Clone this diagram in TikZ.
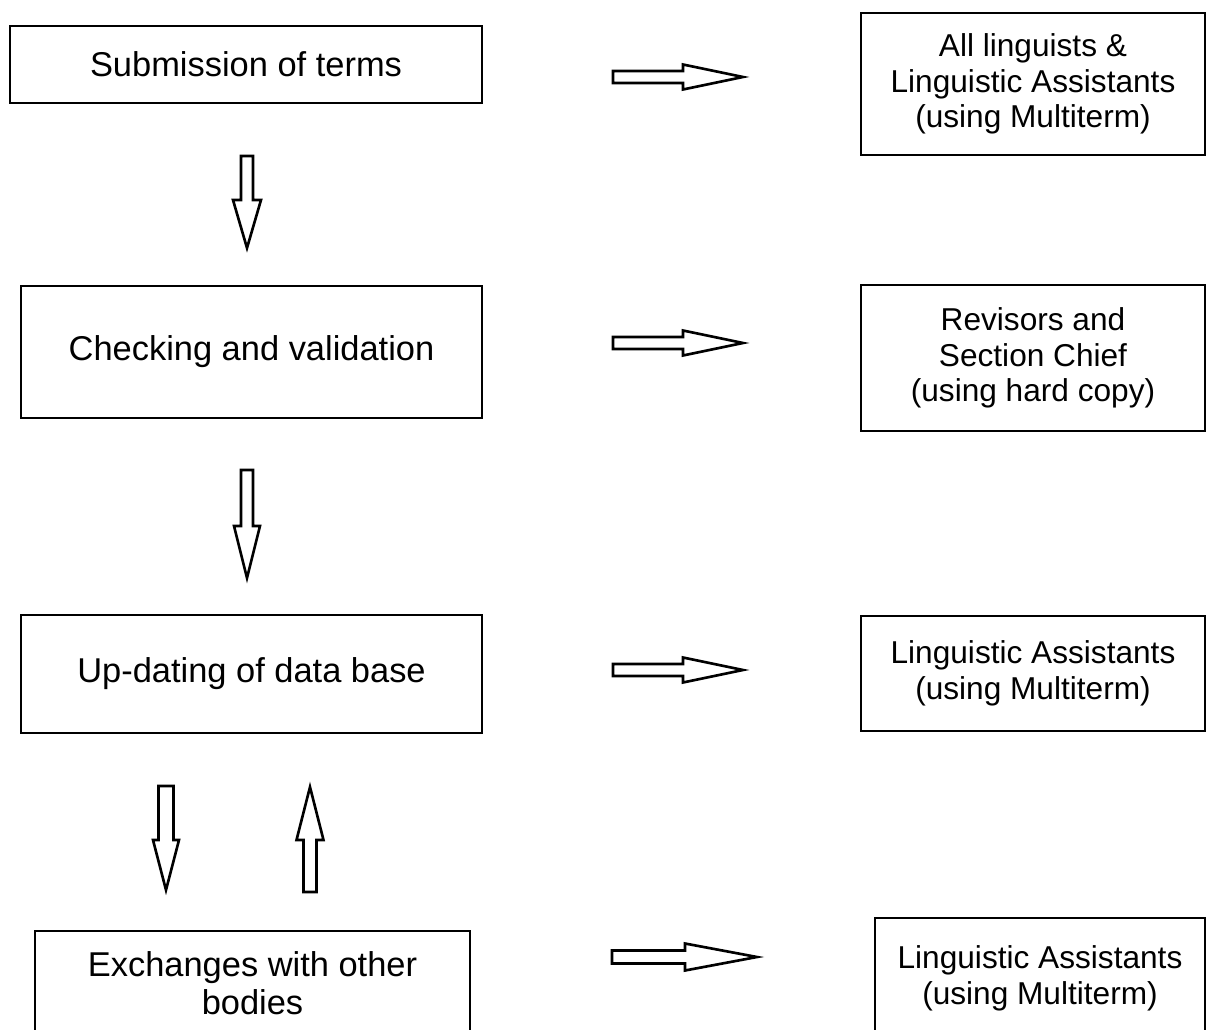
\documentclass[tikz,border=0pt]{standalone}
\usepackage{fontspec}
\setmainfont{Liberation Sans}
\newcommand{\hollowarrow}[6]{\draw[arrowline, shift={(#1)}, rotate=#2] (0,#4) -- ({#3-#6},#4) -- ({#3-#6},#5) -- (#3,0) -- ({#3-#6},-#5) -- ({#3-#6},-#4) -- (0,-#4) -- cycle;}
\begin{document}
\begin{tikzpicture}[x=0.02cm, y=-0.02cm,
		stage/.style={draw, line width=1.6pt, align=center, inner sep=0pt, font=\fontsize{19.6}{21.6}\selectfont},
		users/.style={draw, line width=1.6pt, align=center, inner sep=0pt, font=\fontsize{18}{20.3}\selectfont},
		arrowline/.style={draw, line width=1.5pt, line join=miter}]
		\useasboundingbox (0,0) rectangle (1207,1030);
		\clip (0,0) rectangle (1207,1030);
		\node[stage, minimum width=9.44cm, minimum height=1.54cm] (submit) at (246,64.5) {Submission of terms};
		\node[stage, minimum width=9.22cm, minimum height=2.64cm] (check) at (251.5,352) {Checking and validation};
		\node[stage, minimum width=9.22cm, minimum height=2.36cm] (update) at (251.5,674) {Up-dating of data base};
		\node[stage, minimum width=8.7cm, minimum height=2.08cm] (exchange) at (252.5,983) {Exchanges with other\\bodies};
		\node[users, minimum width=6.88cm, minimum height=2.84cm] (allling) at (1033,84) {All linguists \&\\Linguistic Assistants\\(using Multiterm)};
		\node[users, minimum width=6.88cm, minimum height=2.92cm] (revisors) at (1033,358) {Revisors and\\Section Chief\\(using hard copy)};
		\node[users, minimum width=6.88cm, minimum height=2.3cm] (assist) at (1033,673.5) {Linguistic Assistants\\(using Multiterm)};
		\node[users, minimum width=6.6cm, minimum height=2.4cm] (assistb) at (1040,978) {Linguistic Assistants\\(using Multiterm)};
		\coordinate (to1) at (613,77);
		\coordinate (to2) at (613,343);
		\coordinate (to3) at (613,670);
		\coordinate (to4) at (612,957);
		\coordinate (down1) at (247,156);
		\coordinate (down2) at (247,470);
		\coordinate (down3) at (166,786);
		\coordinate (up3) at (310,892);
		\hollowarrow{to1}{0}{130}{6}{12.5}{60}
		\hollowarrow{to2}{0}{130}{6}{12.5}{60}
		\hollowarrow{to3}{0}{130}{6}{12.5}{60}
		\hollowarrow{to4}{0}{145}{6.5}{13.5}{72}
		\hollowarrow{down1}{-90}{92}{6}{14}{48}
		\hollowarrow{down2}{-90}{108}{6}{13}{52}
		\hollowarrow{down3}{-90}{104}{7.5}{13}{50}
		\hollowarrow{up3}{90}{105}{6.5}{13.5}{53}
	\end{tikzpicture}
\end{document}
